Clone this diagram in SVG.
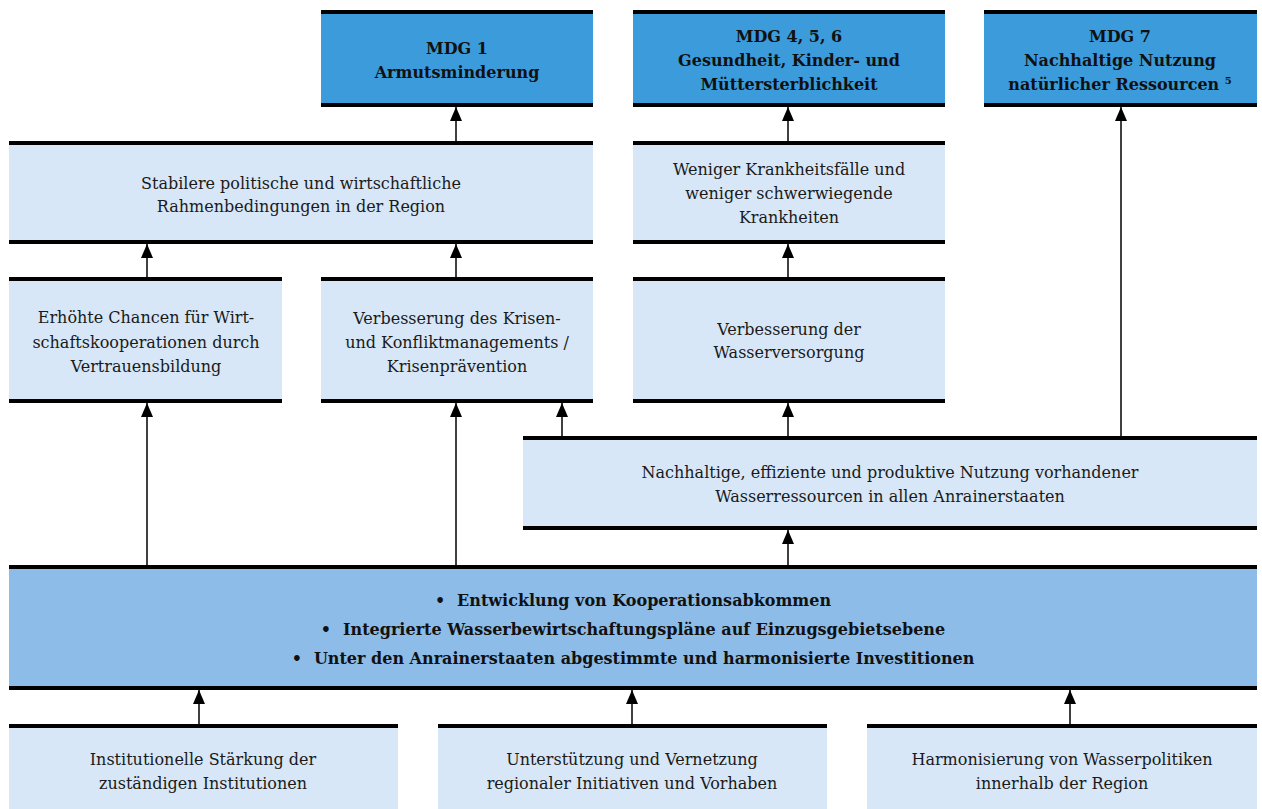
<svg xmlns="http://www.w3.org/2000/svg" width="1262" height="809" viewBox="0 0 1262 809">
<style>
  .dark { fill: #3b9bdb; }
  .light { fill: #d7e7f7; }
  .mid { fill: #8cbce7; }
  .bar { stroke: #000; stroke-width: 4; }
  .t { font-family: "DejaVu Serif", "Liberation Serif", serif; font-size: 16px; fill: #1a1a1a; text-anchor: middle; }
  .b { font-family: "DejaVu Serif", "Liberation Serif", serif; font-size: 16px; font-weight: bold; fill: #111; text-anchor: middle; }
  .conn { stroke: #000; stroke-width: 1.5; fill: none; marker-end: url(#ah); }
</style>
<defs>
  <marker id="ah" markerUnits="userSpaceOnUse" markerWidth="14" markerHeight="12" refX="14" refY="6" orient="auto" viewBox="0 0 14 12">
    <path d="M0,0 L14,6 L0,12 Z" fill="#000"/>
  </marker>
</defs>
<rect width="1262" height="809" fill="#fff"/>

<g id="mdg1">
  <rect class="dark" x="321" y="12" width="272" height="93"/>
  <line class="bar" x1="321" y1="12" x2="593" y2="12"/>
  <line class="bar" x1="321" y1="105" x2="593" y2="105"/>
  <text class="b" x="457" y="54">MDG 1</text>
  <text class="b" x="457" y="78">Armutsminderung</text>
</g>
<g id="mdg456">
  <rect class="dark" x="633" y="12" width="312" height="93"/>
  <line class="bar" x1="633" y1="12" x2="945" y2="12"/>
  <line class="bar" x1="633" y1="105" x2="945" y2="105"/>
  <text class="b" x="789" y="42">MDG 4, 5, 6</text>
  <text class="b" x="789" y="66">Gesundheit, Kinder- und</text>
  <text class="b" x="789" y="90">Müttersterblichkeit</text>
</g>
<g id="mdg7">
  <rect class="dark" x="984" y="12" width="273" height="93"/>
  <line class="bar" x1="984" y1="12" x2="1257" y2="12"/>
  <line class="bar" x1="984" y1="105" x2="1257" y2="105"/>
  <text class="b" x="1120" y="42">MDG 7</text>
  <text class="b" x="1120" y="66">Nachhaltige Nutzung</text>
  <text class="b" x="1120" y="90">natürlicher Ressourcen <tspan font-size="10" dy="-6">5</tspan></text>
</g>
<g id="stabilere">
  <rect class="light" x="9" y="143" width="584" height="99"/>
  <line class="bar" x1="9" y1="143" x2="593" y2="143"/>
  <line class="bar" x1="9" y1="242" x2="593" y2="242"/>
  <text class="t" x="301" y="189">Stabilere politische und wirtschaftliche</text>
  <text class="t" x="301" y="212">Rahmenbedingungen in der Region</text>
</g>
<g id="weniger">
  <rect class="light" x="633" y="143" width="312" height="99"/>
  <line class="bar" x1="633" y1="143" x2="945" y2="143"/>
  <line class="bar" x1="633" y1="242" x2="945" y2="242"/>
  <text class="t" x="789" y="175">Weniger Krankheitsfälle und</text>
  <text class="t" x="789" y="199">weniger schwerwiegende</text>
  <text class="t" x="789" y="223">Krankheiten</text>
</g>
<g id="erhoehte">
  <rect class="light" x="9" y="279" width="273" height="122"/>
  <line class="bar" x1="9" y1="279" x2="282" y2="279"/>
  <line class="bar" x1="9" y1="401" x2="282" y2="401"/>
  <text class="t" x="146" y="323">Erhöhte Chancen für Wirt-</text>
  <text class="t" x="146" y="348">schaftskooperationen durch</text>
  <text class="t" x="146" y="372">Vertrauensbildung</text>
</g>
<g id="krisen">
  <rect class="light" x="321" y="279" width="272" height="122"/>
  <line class="bar" x1="321" y1="279" x2="593" y2="279"/>
  <line class="bar" x1="321" y1="401" x2="593" y2="401"/>
  <text class="t" x="457" y="324">Verbesserung des Krisen-</text>
  <text class="t" x="457" y="348">und Konfliktmanagements /</text>
  <text class="t" x="457" y="372">Krisenprävention</text>
</g>
<g id="wasserversorgung">
  <rect class="light" x="633" y="279" width="312" height="122"/>
  <line class="bar" x1="633" y1="279" x2="945" y2="279"/>
  <line class="bar" x1="633" y1="401" x2="945" y2="401"/>
  <text class="t" x="789" y="335">Verbesserung der</text>
  <text class="t" x="789" y="358">Wasserversorgung</text>
</g>
<g id="nachhaltige">
  <rect class="light" x="523" y="438" width="734" height="90"/>
  <line class="bar" x1="523" y1="438" x2="1257" y2="438"/>
  <line class="bar" x1="523" y1="528" x2="1257" y2="528"/>
  <text class="t" x="890" y="478">Nachhaltige, effiziente und produktive Nutzung vorhandener</text>
  <text class="t" x="890" y="502">Wasserressourcen in allen Anrainerstaaten</text>
</g>
<g id="massnahmen">
  <rect class="mid" x="9" y="567" width="1248" height="121"/>
  <line class="bar" x1="9" y1="567" x2="1257" y2="567"/>
  <line class="bar" x1="9" y1="688" x2="1257" y2="688"/>
  <text class="b" x="633" y="606">•<tspan dx="12">Entwicklung von Kooperationsabkommen</tspan></text>
  <text class="b" x="633" y="635">•<tspan dx="12">Integrierte Wasserbewirtschaftungspläne auf Einzugsgebietsebene</tspan></text>
  <text class="b" x="633" y="664">•<tspan dx="12">Unter den Anrainerstaaten abgestimmte und harmonisierte Investitionen</tspan></text>
</g>
<g id="institutionelle">
  <rect class="light" x="9" y="726" width="389" height="90"/>
  <line class="bar" x1="9" y1="726" x2="398" y2="726"/>
  <text class="t" x="203" y="765">Institutionelle Stärkung der</text>
  <text class="t" x="203" y="789">zuständigen Institutionen</text>
</g>
<g id="unterstuetzung">
  <rect class="light" x="438" y="726" width="389" height="90"/>
  <line class="bar" x1="438" y1="726" x2="827" y2="726"/>
  <text class="t" x="632" y="765">Unterstützung und Vernetzung</text>
  <text class="t" x="632" y="789">regionaler Initiativen und Vorhaben</text>
</g>
<g id="harmonisierung">
  <rect class="light" x="867" y="726" width="390" height="90"/>
  <line class="bar" x1="867" y1="726" x2="1257" y2="726"/>
  <text class="t" x="1062" y="765">Harmonisierung von Wasserpolitiken</text>
  <text class="t" x="1062" y="789">innerhalb der Region</text>
</g>

<g id="connectors">
  <line class="conn" x1="456" y1="141" x2="456" y2="107"/>
  <line class="conn" x1="788" y1="141" x2="788" y2="107"/>
  <line class="conn" x1="1121" y1="436" x2="1121" y2="107"/>
  <line class="conn" x1="147" y1="277" x2="147" y2="244"/>
  <line class="conn" x1="456" y1="277" x2="456" y2="244"/>
  <line class="conn" x1="788" y1="277" x2="788" y2="244"/>
  <line class="conn" x1="147" y1="565" x2="147" y2="403"/>
  <line class="conn" x1="456" y1="565" x2="456" y2="403"/>
  <line class="conn" x1="562" y1="436" x2="562" y2="403"/>
  <line class="conn" x1="788" y1="436" x2="788" y2="403"/>
  <line class="conn" x1="788" y1="565" x2="788" y2="530"/>
  <line class="conn" x1="199" y1="724" x2="199" y2="690"/>
  <line class="conn" x1="632" y1="724" x2="632" y2="690"/>
  <line class="conn" x1="1070" y1="724" x2="1070" y2="690"/>
</g>
</svg>
